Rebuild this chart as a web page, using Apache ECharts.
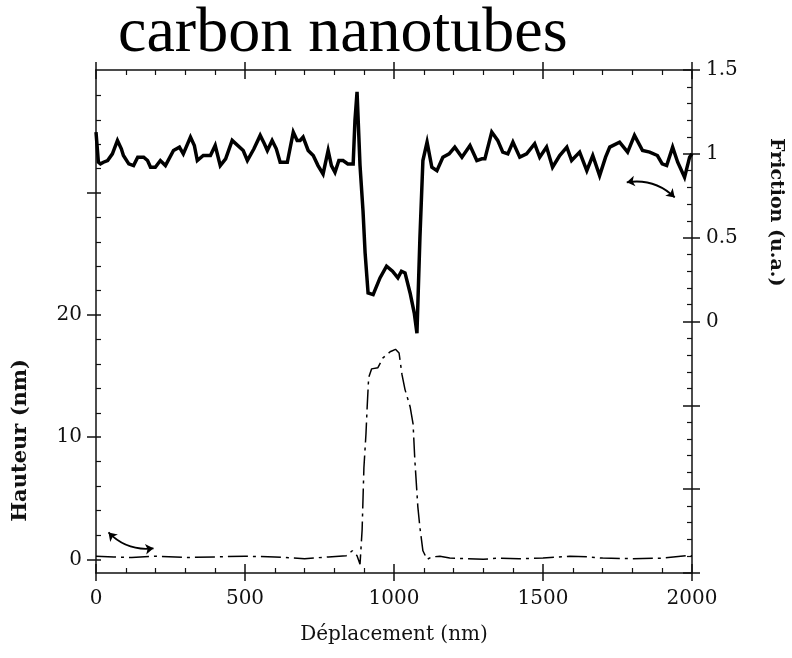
<!DOCTYPE html>
<html>
<head>
<meta charset="utf-8">
<script src="https://cdn.jsdelivr.net/npm/echarts@6/dist/echarts.min.js"></script>
<style>
html, body { margin: 0; padding: 0; background: #fff; }
#chart { width: 792px; height: 658px; }
</style>
</head>
<body>
<div id="chart"></div>
<script>
// Déplacement (nm) / Friction (u.a.) — trait épais, axe de droite
var frictionX = [0, 8, 15, 25, 39, 55, 72, 85, 92, 110, 126, 140, 160, 173, 183, 199, 216, 233, 260, 280,
    293, 317, 330, 340, 360, 384, 400, 417, 435, 457, 494, 508, 530, 551, 565, 575, 591, 605, 618, 642,
    662, 675, 685, 695, 712, 729, 745, 762, 779, 790, 802, 815, 829, 845, 863, 869, 876, 880, 886, 896,
    903, 913, 930, 953, 975, 995, 1013, 1025, 1037, 1054, 1068, 1077, 1087, 1097, 1111, 1127, 1144, 1164, 1185, 1204,
    1228, 1255, 1278, 1295, 1305, 1328, 1348, 1365, 1382, 1399, 1422, 1445, 1472, 1489, 1512, 1532, 1556, 1580, 1596, 1623,
    1647, 1667, 1690, 1710, 1724, 1757, 1784, 1807, 1834, 1858, 1884, 1900, 1915, 1935, 1952, 1975, 1992, 2000];
var frictionY = [1.13, 0.95, 0.94, 0.95, 0.96, 1.00, 1.08, 1.03, 0.99, 0.94, 0.93, 0.98, 0.98, 0.96, 0.92, 0.92, 0.96, 0.93, 1.02, 1.04,
    1.00, 1.10, 1.05, 0.96, 0.99, 0.99, 1.05, 0.93, 0.97, 1.08, 1.02, 0.96, 1.03, 1.11, 1.06, 1.02, 1.08, 1.03, 0.95, 0.95,
    1.13, 1.08, 1.08, 1.10, 1.02, 0.99, 0.93, 0.88, 1.02, 0.93, 0.89, 0.96, 0.96, 0.94, 0.94, 1.20, 1.37, 1.37, 0.93, 0.66,
    0.41, 0.17, 0.16, 0.26, 0.33, 0.30, 0.26, 0.30, 0.29, 0.17, 0.05, -0.07, 0.50, 0.96, 1.07, 0.92, 0.90, 0.98, 1.00, 1.04,
    0.98, 1.05, 0.96, 0.97, 0.97, 1.13, 1.08, 1.01, 1.00, 1.07, 0.98, 1.00, 1.06, 0.98, 1.04, 0.92, 0.99, 1.04, 0.96, 1.01,
    0.90, 0.99, 0.87, 0.98, 1.04, 1.07, 1.01, 1.11, 1.02, 1.01, 0.99, 0.94, 0.93, 1.04, 0.95, 0.86, 0.98, 1.00];

// Hauteur (nm) — trait fin pointillé, axe de gauche
var heightX = [0, 60, 120, 200, 300, 400, 500, 600, 700, 780, 840, 860, 876, 886, 893, 899, 906, 910, 915, 925,
    946, 963, 987, 1005, 1017, 1027, 1037, 1054, 1064, 1070, 1080, 1087, 1097, 1111, 1127, 1154, 1187, 1244, 1300, 1345,
    1420, 1500, 1590, 1650, 1700, 1800, 1900, 1982, 2000];
var heightY = [0.25, 0.2, 0.15, 0.25, 0.15, 0.2, 0.25, 0.2, 0.05, 0.2, 0.3, 0.7, 0.3, -0.4, 2.4, 7.5, 10.3, 12.5, 14.9, 15.6,
    15.7, 16.5, 17.0, 17.2, 16.9, 15.1, 13.9, 12.5, 11.1, 8.1, 4.3, 2.6, 0.7, 0.0, 0.2, 0.25, 0.1, 0.05, 0.0, 0.1,
    0.05, 0.1, 0.25, 0.2, 0.1, 0.05, 0.1, 0.3, 0.3];

// graduations
var heightTicks = [0, 10, 20, 30];
var heightLabels = [0, 10, 20];
var heightMinorTicks = [2, 4, 6, 8, 12, 14, 16, 18, 22, 24, 26, 28, 32, 34, 36, 38];

// flèches (coordonnées données)
var arrowHeight = [[42, 2.2], [193, 0.9]];
var arrowFriction = [[1781, 0.83], [1942, 0.74]];

function zip(xs, ys) {
    return xs.map(function (x, i) { return [x, ys[i]]; });
}

var serif = 'DejaVu Serif';
var ink = '#111';

var chart = echarts.init(document.getElementById('chart'));

function xAxisCfg(extra) {
    return Object.assign({
        type: 'value',
        min: 0,
        max: 2000,
        interval: 500,
        splitLine: { show: false }
    }, extra);
}

function hAxisCfg(extra) {
    return Object.assign({
        type: 'value',
        position: 'left',
        min: -1.12,
        max: 40.08,
        splitLine: { show: false },
        axisLine: { show: false, onZero: false },
        axisLabel: { show: false }
    }, extra);
}

function fAxisCfg(extra) {
    return Object.assign({
        type: 'value',
        position: 'right',
        min: -1.5,
        max: 1.5,
        interval: 0.5,
        splitLine: { show: false },
        axisLine: { show: false, onZero: false },
        axisLabel: { show: false }
    }, extra);
}

var options = {
    animation: false,
    backgroundColor: '#fff',
    title: {
        text: 'carbon nanotubes',
        left: 113,
        top: -3,
        textStyle: {
            fontFamily: 'Liberation Serif',
            fontSize: 64,
            fontWeight: 'normal',
            color: '#000'
        }
    },
    grid: {
        left: 96,
        right: 100,
        top: 70,
        bottom: 85,
        containLabel: false
    },
    xAxis: [
        xAxisCfg({
            position: 'bottom',
            axisLine: { onZero: false, lineStyle: { color: ink, width: 1.5 } },
            axisTick: { inside: true, length: 9, lineStyle: { color: ink, width: 1.5 } },
            minorTick: { show: true, splitNumber: 5, length: 5, lineStyle: { color: ink, width: 1.2 } },
            axisLabel: {
                margin: 16, fontFamily: serif, fontSize: 20, color: ink,
                formatter: function (v) { return String(v); }
            },
            name: 'Déplacement (nm)',
            nameLocation: 'middle',
            nameGap: 52,
            nameTextStyle: { fontFamily: serif, fontSize: 20, color: ink }
        }),
        xAxisCfg({
            position: 'bottom',
            axisLine: { show: false, onZero: false },
            axisTick: { inside: false, length: 8, lineStyle: { color: ink, width: 1.5 } },
            axisLabel: { show: false }
        }),
        xAxisCfg({
            position: 'top',
            axisLine: { onZero: false, lineStyle: { color: ink, width: 1.5 } },
            axisTick: { inside: true, length: 9, lineStyle: { color: ink, width: 1.5 } },
            minorTick: { show: true, splitNumber: 5, length: 5, lineStyle: { color: ink, width: 1.2 } },
            axisLabel: { show: false }
        }),
        xAxisCfg({
            position: 'top',
            axisLine: { show: false, onZero: false },
            axisTick: { inside: false, length: 8, lineStyle: { color: ink, width: 1.5 } },
            axisLabel: { show: false }
        })
    ],
    yAxis: [
        hAxisCfg({
            axisLine: { show: true, onZero: false, lineStyle: { color: ink, width: 1.5 } },
            axisTick: { show: true, inside: true, length: 5, customValues: heightTicks, lineStyle: { color: ink, width: 1.5 } },
            axisLabel: { customValues: heightLabels, margin: 14, fontFamily: serif, fontSize: 20, color: ink }
        }),
        hAxisCfg({
            axisTick: { show: true, inside: false, length: 9, customValues: heightTicks, lineStyle: { color: ink, width: 1.5 } }
        }),
        hAxisCfg({
            axisTick: { show: true, inside: true, length: 5, customValues: heightMinorTicks, lineStyle: { color: ink, width: 1.2 } }
        }),
        fAxisCfg({
            axisLine: { show: true, onZero: false, lineStyle: { color: ink, width: 1.5 } },
            axisTick: { show: true, inside: true, length: 9, lineStyle: { color: ink, width: 1.5 } },
            minorTick: { show: true, splitNumber: 5, length: 5, lineStyle: { color: ink, width: 1.2 } },
            axisLabel: {
                margin: 14,
                fontFamily: serif,
                fontSize: 20,
                color: ink,
                formatter: function (v) { return v >= 0 ? String(v) : ''; }
            }
        }),
        fAxisCfg({
            axisTick: { show: true, inside: false, length: 8, lineStyle: { color: ink, width: 1.5 } }
        })
    ],
    graphic: [
        {
            type: 'text',
            left: 766,
            top: 138,
            rotation: -Math.PI / 2,
            style: {
                text: 'Friction (u.a.)',
                font: 'bold 19px "DejaVu Serif"',
                fill: ink
            }
        },
        {
            type: 'text',
            left: 10,
            top: 359,
            rotation: Math.PI / 2,
            style: {
                text: 'Hauteur (nm)',
                font: 'bold 21px "DejaVu Serif"',
                fill: ink
            }
        }
    ],
    series: [
        {
            name: 'Friction',
            type: 'line',
            xAxisIndex: 0,
            yAxisIndex: 3,
            data: zip(frictionX, frictionY),
            symbol: 'none',
            z: 5,
            lineStyle: { color: '#000', width: 3.5, join: 'miter' }
        },
        {
            name: 'Hauteur',
            type: 'line',
            xAxisIndex: 0,
            yAxisIndex: 0,
            data: zip(heightX, heightY),
            symbol: 'none',
            z: 4,
            lineStyle: { color: '#000', width: 1.5, type: [20, 5, 3, 5] }
        },
        {
            type: 'lines',
            coordinateSystem: 'cartesian2d',
            xAxisIndex: 0,
            yAxisIndex: 0,
            symbol: ['arrow', 'arrow'],
            symbolSize: 8,
            lineStyle: { color: '#000', width: 1.8, curveness: -0.25, opacity: 1 },
            data: [{ coords: arrowHeight }]
        },
        {
            type: 'lines',
            coordinateSystem: 'cartesian2d',
            xAxisIndex: 0,
            yAxisIndex: 3,
            symbol: ['arrow', 'arrow'],
            symbolSize: 8,
            lineStyle: { color: '#000', width: 1.8, curveness: 0.25, opacity: 1 },
            data: [{ coords: arrowFriction }]
        }
    ]
};

chart.setOption(options, true);
</script>
</body>
</html>
